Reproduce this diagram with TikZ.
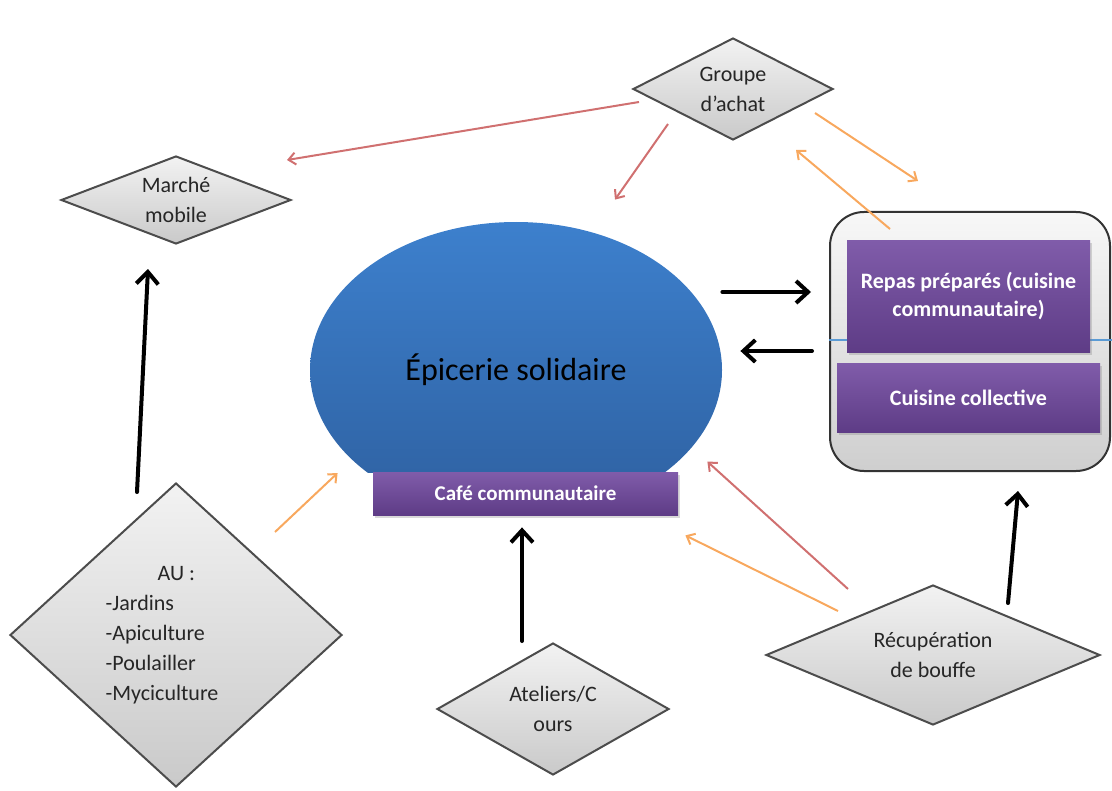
\documentclass[tikz,border=0pt]{standalone}
\usepackage{fontspec}
\setmainfont{Carlito}
\usepackage{tikz}
\usetikzlibrary{shapes.geometric,arrows.meta,shadows}

\definecolor{bleu}{RGB}{61,128,205}
\definecolor{bleufonce}{RGB}{46,96,160}
\definecolor{violet}{RGB}{128,92,170}
\definecolor{violetfonce}{RGB}{94,60,134}
\definecolor{rouge}{RGB}{208,112,112}
\definecolor{orangeclair}{RGB}{248,168,94}
\definecolor{lignebleue}{RGB}{91,155,213}

\begin{document}
\begin{tikzpicture}[x=0.5pt,y=-0.5pt,
  losange/.style={diamond, draw=black!70, line width=1pt, top color=gray!10, bottom color=gray!42,
    inner sep=0pt, text=black!85, align=center, font=\fontsize{11}{15}\selectfont},
  boite/.style={rectangle, top color=violet, bottom color=violetfonce, text=white, align=center,
    inner sep=0pt, font=\bfseries\fontsize{11}{13.5}\selectfont,
    drop shadow={opacity=0.3, shadow xshift=1pt, shadow yshift=-1.5pt}},
  gros/.style={-{Straight Barb[length=6pt,width=11pt]}, line width=2pt, line cap=round},
  fin/.style={-{Straight Barb[length=3.5pt,width=6pt]}, line width=1pt}]
  \useasboundingbox (0,0) rectangle (1112,791);

  \node[rectangle, rounded corners=17pt, draw=black!80, line width=1pt, top color=gray!6, bottom color=gray!38,
    minimum width=140pt, minimum height=129.5pt, inner sep=0pt] (bloc) at (970,341.5) {};
  \draw[lignebleue, line width=0.6pt] ([shift={(0,-1.5)}]bloc.west) -- ([shift={(2,-1.5)}]bloc.east);
  \node[boite, minimum width=121.5pt, minimum height=56pt] (repas) at (968.5,296) {Repas préparés (cuisine\\communautaire)};
  \node[boite, minimum width=131.5pt, minimum height=34.5pt] (collective) at (968.5,397.5) {Cuisine collective};

  \begin{scope}
    \clip (0,0) rectangle (1112,472);
    \node[ellipse, top color=bleu, bottom color=bleufonce, minimum width=206pt, minimum height=148pt,
      font=\fontsize{16}{18}\selectfont] (epicerie) at (516,370) {Épicerie solidaire};
  \end{scope}
  \node[boite, minimum width=152.5pt, minimum height=21.5pt, font=\bfseries\fontsize{10.5}{12}\selectfont] (cafe) at (525.5,493.5) {Café communautaire};

  \node[losange, minimum width=100pt, minimum height=51pt, shape aspect=2] (groupe) at (733,89) {Groupe\\d’achat};
  \node[losange, minimum width=115pt, minimum height=44pt, shape aspect=2.6] (marche) at (176,200) {Marché\\mobile};
  \node[losange, minimum width=166pt, minimum height=152pt, shape aspect=1.1, align=left] (au) at (176,635)
    {\hspace*{26pt}AU :\\-Jardins\\-Apiculture\\-Poulailler\\-Myciculture\hspace*{14pt}};
  \node[losange, minimum width=116pt, minimum height=66pt, shape aspect=1.76] (ateliers) at (553,709) {Ateliers/C\\ours};
  \node[losange, minimum width=167pt, minimum height=70pt, shape aspect=2.4] (recup) at (933,655) {Récupération\\de bouffe};

  \draw[gros] ([shift={(0,-78)}]epicerie.east) -- ([shift={(-18,-49.5)}]bloc.west);
  \draw[gros] ([shift={(-17,9.5)}]bloc.west) -- ([shift={(18,-19)}]epicerie.east);
  \draw[gros] ([shift={(-39,10)}]au.north) -- ([shift={(-28,24)}]marche.south);
  \draw[gros] ([shift={(-31,-1)}]ateliers.north) -- ([shift={(-3.5,12)}]cafe.south);
  \draw[gros] ([shift={(75,19)}]recup.north) -- ([shift={(48,19)}]bloc.south);

  \draw[fin, rouge] ([shift={(7,13)}]groupe.west) -- ([shift={(-5,-40)}]marche.east);
  \draw[fin, rouge] ([shift={(-65,-17)}]groupe.south) -- ([shift={(99,-22)}]epicerie.north);
  \draw[fin, rouge] ([shift={(-85,5)}]recup.north) -- ([shift={(29,-10)}]cafe.north east);
  \draw[fin, orangeclair] ([shift={(-19,24)}]groupe.east) -- ([shift={(-52,-30)}]bloc.north);
  \draw[fin, orangeclair] ([shift={(-80,18)}]bloc.north) -- ([shift={(-38,61)}]groupe.east);
  \draw[fin, orangeclair] ([shift={(99,50)}]au.north) -- ([shift={(-35,-20.5)}]cafe.west);
  \draw[fin, orangeclair] ([shift={(-95,27)}]recup.north) -- ([shift={(7,20)}]cafe.south east);
\end{tikzpicture}
\end{document}
